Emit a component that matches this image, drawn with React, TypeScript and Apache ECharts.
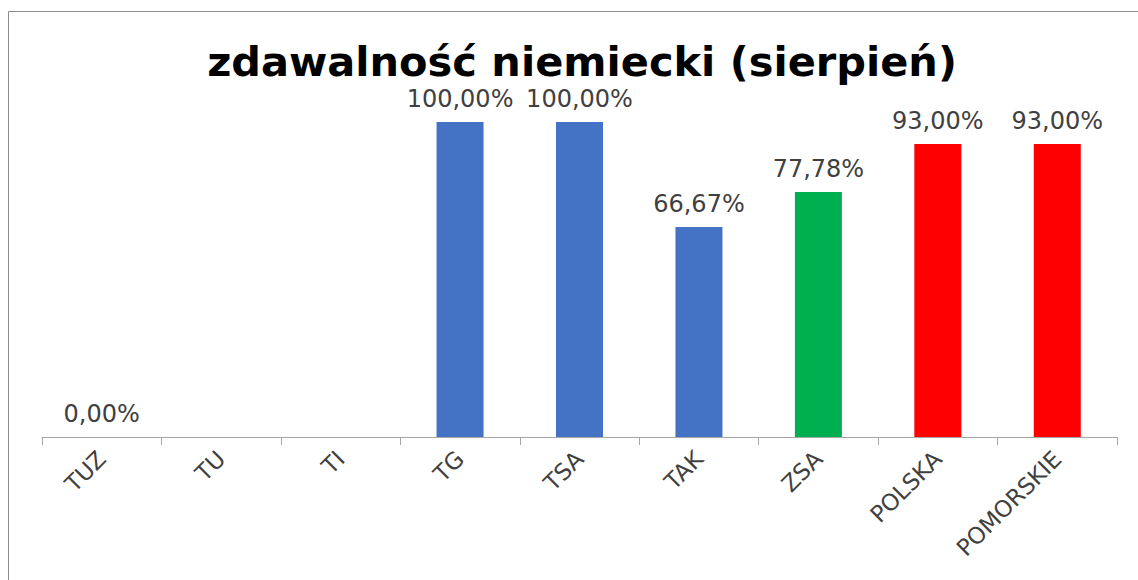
import React, { useEffect, useRef } from "react";
import * as echarts from "echarts";

const categories = ["TUZ", "TU", "TI", "TG", "TSA", "TAK", "ZSA", "POLSKA", "POMORSKIE"];
const values: (number | null)[] = [0, null, null, 100, 100, 66.67, 77.78, 93, 93];
const barColors = ["#4472C4", "#4472C4", "#4472C4", "#4472C4", "#4472C4", "#4472C4", "#00B050", "#FF0000", "#FF0000"];
const titleText = "zdawalność niemiecki (sierpień)";

const FONT = "'DejaVu Sans', 'Open Sans', sans-serif";

export default function App() {
  const ref = useRef<HTMLDivElement>(null);
  useEffect(() => {
    if (!ref.current) return;
    const chart = echarts.init(ref.current, undefined, { renderer: "svg" });
    chart.setOption({
      animation: false,
      backgroundColor: "#ffffff",
      title: {
        text: titleText,
        left: 577,
        textAlign: "center",
        top: 35,
        textStyle: { fontFamily: FONT, fontSize: 41.5, fontWeight: "bold", color: "#000000" },
      },
      graphic: [
        {
          type: "rect",
          shape: { x: 8.5, y: 11.5, width: 1140, height: 600 },
          style: { fill: "none", stroke: "#8c8c8c", lineWidth: 1 },
          silent: true,
        },
      ],
      grid: { left: 42, right: 21, top: 122, bottom: 143, containLabel: false },
      xAxis: {
        type: "category",
        data: categories,
        axisLine: { lineStyle: { color: "#a6a6a6", width: 1 } },
        axisTick: { show: true, length: 8, lineStyle: { color: "#a6a6a6" } },
        axisLabel: {
          rotate: 45,
          interval: 0,
          margin: 18,
          fontFamily: FONT,
          fontSize: 23,
          color: "#404040",
        },
      },
      yAxis: {
        type: "value",
        min: 0,
        max: 100,
        show: false,
        splitLine: { show: false },
      },
      series: [
        {
          type: "bar",
          barWidth: 47,
          data: values.map((v, i) => ({
            value: v,
            itemStyle: { color: barColors[i] },
          })),
          label: {
            show: true,
            position: "top",
            distance: 11,
            fontFamily: FONT,
            fontSize: 24,
            color: "#404040",
            formatter: (p: any) =>
              p.value == null ? "" : Number(p.value).toFixed(2).replace(".", ",") + "%",
          },
        },
      ],
    });
    return () => chart.dispose();
  }, []);
  return (
    <div
      ref={ref}
      style={{ position: "fixed", left: 0, top: 0, width: 1138, height: 580 }}
    />
  );
}
